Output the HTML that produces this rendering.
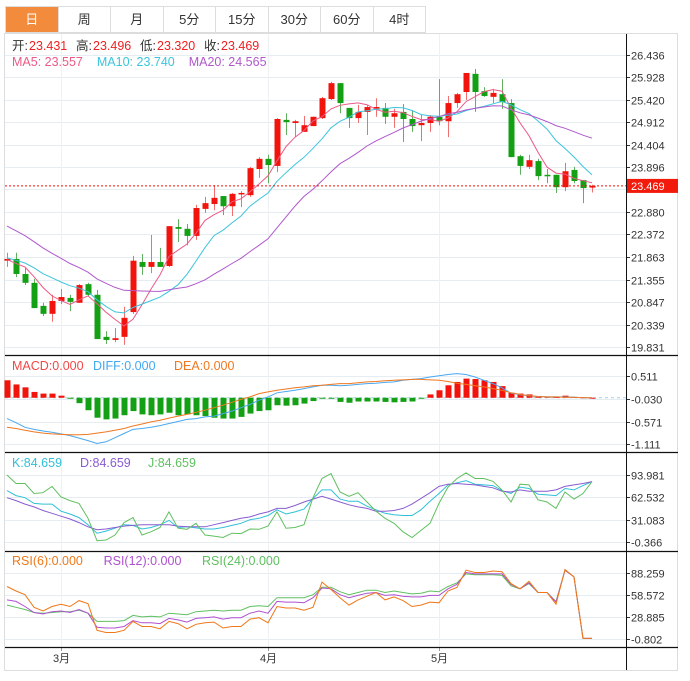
<!DOCTYPE html>
<html><head><meta charset="utf-8">
<style>
html,body{margin:0;padding:0;background:#fff;width:690px;height:681px;overflow:hidden;font-family:"Liberation Sans","Noto Sans CJK SC",sans-serif;}
#tabs{position:absolute;left:5px;top:6px;height:27px;display:flex;border:1px solid #ddd;border-right:none;box-sizing:border-box;}
.tab{width:52.5px;height:25px;line-height:25px;text-align:center;font-size:13px;color:#333;border-right:1px solid #ddd;box-sizing:border-box;}
.tab.on{background:#f28b3c;color:#fff;}
svg{position:absolute;left:0;top:0;}
</style></head><body>
<div id="tabs">
<div class="tab on">日</div>
<div class="tab">周</div>
<div class="tab">月</div>
<div class="tab">5分</div>
<div class="tab">15分</div>
<div class="tab">30分</div>
<div class="tab">60分</div>
<div class="tab">4时</div>
</div>
<svg id="chart" width="690" height="681"></svg>
<script>
const opens=[21.78,21.82,21.48,21.28,20.76,20.58,20.87,20.94,20.83,21.25,21.01,20.06,19.99,20.06,20.62,21.75,21.64,21.75,21.66,22.54,22.50,22.34,22.95,23.06,23.24,23.01,23.29,23.26,23.85,24.08,23.92,24.96,24.89,24.69,24.82,25.00,25.43,25.79,25.23,25.00,25.14,25.23,25.23,25.03,25.14,24.98,24.84,24.89,25.03,24.93,25.34,25.59,26.00,25.61,25.48,25.54,25.34,24.14,23.90,24.03,23.72,23.72,23.44,23.83,23.60,23.431];
const closes=[21.82,21.48,21.28,20.71,20.58,20.87,20.96,20.85,21.23,21.01,20.01,19.99,20.03,20.49,21.78,21.64,21.75,21.64,22.56,22.50,22.34,22.97,23.08,23.20,23.01,23.29,23.31,23.87,24.08,23.94,24.98,24.91,24.93,24.84,25.03,25.45,25.79,25.34,25.00,25.14,25.25,25.25,25.03,25.11,24.98,24.82,24.89,25.03,24.93,25.34,25.54,26.02,25.59,25.50,25.57,25.36,24.12,23.92,24.05,23.69,23.69,23.44,23.80,23.58,23.42,23.469];
const highs=[21.96,21.96,21.62,21.37,20.83,21.01,21.14,21.01,21.25,21.28,21.12,20.19,20.26,20.74,21.89,21.93,22.36,22.07,22.56,22.72,22.61,23.04,23.22,23.49,23.24,23.31,23.35,23.90,24.12,24.17,25.00,25.11,24.96,25.05,25.03,25.48,25.82,25.79,25.23,25.30,25.30,25.45,25.34,25.21,25.32,25.18,25.07,25.07,25.88,25.50,25.57,26.02,26.11,25.70,25.66,25.88,25.43,24.17,24.17,24.08,23.85,23.72,23.99,23.90,23.60,23.496];
const lows=[21.64,21.41,21.23,20.71,20.53,20.40,20.80,20.64,20.83,20.98,20.01,19.90,19.94,19.88,20.58,21.46,21.50,21.64,21.64,22.20,22.13,22.25,22.86,22.92,22.81,22.79,22.99,23.22,23.65,23.53,23.78,24.62,24.57,24.69,24.82,24.98,25.41,25.11,24.78,24.89,24.62,25.03,24.87,24.78,24.46,24.69,24.48,24.69,24.84,24.57,25.23,25.41,25.14,25.48,25.34,25.21,24.12,23.72,23.85,23.60,23.53,23.31,23.35,23.53,23.08,23.320];
const priorCloses=[23.6,23.5,23.4,23.4,23.3,23.2,23.2,23.1,23.1,23.0,22.0,21.9,21.8,21.9,21.8,21.9,21.7,21.8,21.8];
const macdHist=[0.42,0.32,0.25,0.14,0.10,0.10,0.05,-0.01,-0.13,-0.30,-0.48,-0.52,-0.50,-0.42,-0.32,-0.40,-0.42,-0.40,-0.36,-0.42,-0.40,-0.42,-0.44,-0.48,-0.50,-0.50,-0.46,-0.38,-0.32,-0.30,-0.18,-0.19,-0.18,-0.14,-0.08,-0.02,-0.02,-0.10,-0.12,-0.09,-0.09,-0.09,-0.10,-0.11,-0.10,-0.09,-0.01,0.08,0.18,0.30,0.38,0.46,0.45,0.42,0.38,0.28,0.12,0.10,0.08,0.04,0.03,0.02,0.05,0.02,0.01,0];
const diffVals=[-0.50,-0.60,-0.71,-0.76,-0.80,-0.83,-0.87,-0.91,-0.97,-1.03,-1.10,-1.06,-0.96,-0.86,-0.76,-0.74,-0.71,-0.67,-0.62,-0.57,-0.52,-0.50,-0.46,-0.44,-0.38,-0.32,-0.24,-0.16,-0.06,0.02,0.12,0.15,0.18,0.22,0.26,0.30,0.30,0.29,0.30,0.32,0.34,0.35,0.37,0.38,0.42,0.44,0.46,0.50,0.53,0.56,0.58,0.56,0.50,0.42,0.34,0.24,0.11,0.07,0.05,0.03,0.02,0.02,0.02,0.01,0,0];
const deaVals=[-0.71,-0.74,-0.78,-0.82,-0.85,-0.87,-0.88,-0.89,-0.89,-0.88,-0.85,-0.82,-0.78,-0.74,-0.68,-0.63,-0.58,-0.54,-0.49,-0.44,-0.40,-0.35,-0.30,-0.24,-0.18,-0.11,-0.04,0.02,0.10,0.14,0.18,0.21,0.24,0.26,0.29,0.30,0.32,0.34,0.34,0.36,0.38,0.39,0.41,0.42,0.43,0.44,0.44,0.43,0.42,0.39,0.35,0.32,0.29,0.26,0.22,0.18,0.12,0.08,0.05,0.03,0.02,0.02,0.01,0.01,0,0];
const kVals=[72,65,62,54,53,53,43,39,34,24,12,15,19,24,23,18,20,24,30,20,21,19.5,18,18,20,23,26,31,33,37,45,39,42,46,61,73,73,60,57,57,50,45,40,38,37,37,45,57,68,80,83,86,81,80,79,72,68,77,75,67,66,65,75,73,79,84.659];
const dVals=[62,58,53,49,44,40,36,32,27,21,17,18,20,22,23,24,24,24,24,22,21,21,21,24,27,30,33,35,39,42,47,47,51,56,60,64,60,56,52,49,47,43,43,44,47,53,61,69,78,81,82,81,80,78,76,71,70,73,71,71,71,73,78,80,82,84.659];
const jVals=[94,82,82,68,69,78,63,58,54,33,1.5,2.5,9.5,27,34,9.5,14,20,42,19,17.5,26,9.5,8,6,12,11.5,18,17.5,22,42,19,20,24,62,89,96,70,64,69,56,43,33,26,14,6,16,26,54,77,89,97,89,89,85,73,56,81,80,59,56,47,70,60,68,84.659];
const rsi6=[70,64,59,42,37,43,46,43,51,47,11,8,8,11,23,16,16,13,23,20,13,19,21,22,14,16,16,26,28,21,43,41,41,38,42,76,66,55,45,52,57,62,52,56,51,43,45,49,48,64,69,92,89,89,91,90,74,67,77,62,62,46,93,83,0,0];
const rsi12=[52,50,43,35,33,36,37,35,39,34,15,14,14,16,24,21,21,20,27,25,22,27,28,29,26,28,28,34,37,34,50,49,49,48,55,68,67,59,55,58,61,62,58,59,57,56,56,58,58,67,73,89,87,87,87,87,73,67,75,62,62,49,92,83,0,0];
const rsi24=[45,42,39,35,34,35,36,36,38,34,23,23,23,24,31,29,30,29,34,33,32,36,37,38,37,38,38,43,44,43,55,55,55,55,59,69,69,63,59,62,65,65,62,64,62,60,61,64,63,70,75,87,86,86,86,85,71,67,74,62,62,50,92,83,0,0];
const priceTicks=[26.436,25.928,25.420,24.912,24.404,23.896,23.388,22.880,22.372,21.863,21.355,20.847,20.339,19.831];
const priceTickLabels=["26.436","25.928","25.420","24.912","24.404","23.896","","22.880","22.372","21.863","21.355","20.847","20.339","19.831"];
const macdTicks=[0.511,-0.030,-0.571,-1.111];
const kdjTicks=[93.981,62.532,31.083,-0.366];
const rsiTicks=[88.259,58.572,28.885,-0.802];
const monthIdx=[6,29,48];
const monthLabels=["3月","4月","5月"];
const lastPrice=23.469;

const NS="http://www.w3.org/2000/svg";
const svg=document.getElementById('chart');
const X0=7,STEP=9,PL=5,PR=626,RR=678;
const xAt=i=>X0+STEP*i;
const yP=v=>347-(v-19.831)*44.28;
const yM=v=>399-(v+0.030)*41.6;
const yK=v=>542-(v+0.366)*0.7101;
const yR=v=>639-(v+0.802)*0.741;
function mk(tag,attrs,parent){const e=document.createElementNS(NS,tag);for(const k in attrs)e.setAttribute(k,attrs[k]);(parent||svg).appendChild(e);return e;}
function txt(x,y,s,fill,size,anchor,name){const t=mk('text',{x:x,y:y,fill:fill,'font-size':size,'text-anchor':anchor||'start','font-family':'"Liberation Sans","Noto Sans CJK SC",sans-serif'});t.textContent=s;


return t;}
function line(vals,yf,color,name){const pts=vals.map((v,i)=>xAt(i)+','+yf(v).toFixed(1)).join(' ');const p=mk('polyline',{points:pts,fill:'none',stroke:color,'stroke-width':1});


return p;}

const fr=mk('rect',{x:4.5,y:33.5,width:673,height:637,fill:'none',stroke:'#ddd'});


function hgrid(ticks,yf,name,labels){ticks.forEach((t,k)=>{const y=Math.round(yf(t))+0.5;const g=mk('line',{x1:PL,x2:PR,y1:y,y2:y,stroke:'#e6edf2'});


mk('line',{x1:PR,x2:PR+4,y1:y,y2:y,stroke:'#333'});
const s=labels?labels[k]:String(t.toFixed(3));if(s)txt(PR+5,y+4,s,'#333',11,'start',name+'-tick-label');});}
hgrid(priceTicks,yP,'price',priceTickLabels);
hgrid(macdTicks,yM,'macd');
hgrid(kdjTicks,yK,'kdj');
hgrid(rsiTicks,yR,'rsi');
monthIdx.forEach((m,k)=>{const x=xAt(m)+0.5;const g=mk('line',{x1:x,x2:x,y1:34,y2:647,stroke:'#eef1f4'});


mk('line',{x1:x,x2:x,y1:647,y2:651,stroke:'#999'});
txt(x,662,monthLabels[k],'#333',11,'middle','x-axis-label');});
[355.5,452.5,551.5,647.5].forEach(y=>{const l=mk('line',{x1:PL,x2:RR,y1:y,y2:y,stroke:'#111','stroke-width':1.2});

});
const ax=mk('line',{x1:PR+0.5,x2:PR+0.5,y1:34,y2:670,stroke:'#111'});



const all=priorCloses.concat(closes);const P=priorCloses.length;
function ma(n){return closes.map((c,i)=>{let s=0,cnt=0;for(let k=P+i;k>P+i-n&&k>=0;k--){s+=all[k];cnt++;}return s/cnt;});}
closes.forEach((c,i)=>{const o=opens[i];const up=c>=o;const col=up?'#f2140c':'#14a014';const x=xAt(i);
const w=mk('line',{x1:x+0.5,x2:x+0.5,y1:yP(highs[i]),y2:yP(lows[i]),stroke:up?'#f07070':'#60b060'});


const t=Math.min(yP(o),yP(c)),h=Math.max(1.5,Math.abs(yP(o)-yP(c)));
const b=mk('rect',{x:x-2.5,y:t,width:6,height:h,fill:col});

});
line(ma(5),yP,'#ec5a86','ma5-line');
line(ma(10),yP,'#3cc4dc','ma10-line');
line(ma(20),yP,'#b058cc','ma20-line');
const ly=yP(lastPrice);
const lp=mk('line',{x1:PL,x2:PR,y1:ly,y2:ly,stroke:'#f01010','stroke-dasharray':'2,2'});


const lb=mk('rect',{x:PR+1,y:ly-7,width:RR-PR-1,height:14,fill:'#f21a0a'});


txt(PR+5,ly+4,lastPrice.toFixed(3),'#fff',11,'start','last-price-label');

const z=yM(0);
const zl=mk('line',{x1:PL,x2:PR,y1:z,y2:z,stroke:'#9fd4e8','stroke-dasharray':'3,3'});


macdHist.forEach((v,i)=>{const y=yM(v);const r=mk('rect',{x:xAt(i)-2.5,y:Math.min(y,z),width:6,height:Math.max(1,Math.abs(y-z)),fill:v>=0?'#f2140c':'#14a014'});

});
line(diffVals,yM,'#4aa8f0','diff-line');
line(deaVals,yM,'#f07820','dea-line');
line(kVals,yK,'#30c0d8','k-line');
line(dVals,yK,'#8a5cd0','d-line');
line(jVals,yK,'#60c060','j-line');
line(rsi24,yR,'#60c060','rsi24-line');
line(rsi12,yR,'#b050d0','rsi12-line');
line(rsi6,yR,'#f07818','rsi6-line');

(function(){let x=12;[['开:','#333'],['23.431','#f02020'],['高:','#333'],['23.496','#f02020'],['低:','#333'],['23.320','#f02020'],['收:','#333'],['23.469','#f02020']].forEach(([s,c],k)=>{txt(x,50,s,c,12.5,'start','ohlc-legend');x+=(k%2===0?17:39+8);});})();
(function(){let x=12;[['MA5: 23.557','#ec5a86'],['MA10: 23.740','#3cc4dc'],['MA20: 24.565','#b058cc']].forEach(([s,c])=>{txt(x,66,s,c,12.5,'start','ma-legend');x+=s.length*6.9+9;});})();
(function(){let x=12;[['MACD:0.000','#f04848'],['DIFF:0.000','#44a8f0'],['DEA:0.000','#f07820']].forEach(([s,c])=>{txt(x,370,s,c,12.5,'start','macd-legend');x+=s.length*7+11;});})();
(function(){let x=12;[['K:84.659','#30c0d8'],['D:84.659','#8a5cd0'],['J:84.659','#60c060']].forEach(([s,c])=>{txt(x,467,s,c,12.5,'start','kdj-legend');x+=s.length*7+12;});})();
(function(){let x=12;[['RSI(6):0.000','#f07818'],['RSI(12):0.000','#b050d0'],['RSI(24):0.000','#60c060']].forEach(([s,c])=>{txt(x,565,s,c,12.5,'start','rsi-legend');x+=s.length*6.8+10;});})();
</script>
</body></html>
